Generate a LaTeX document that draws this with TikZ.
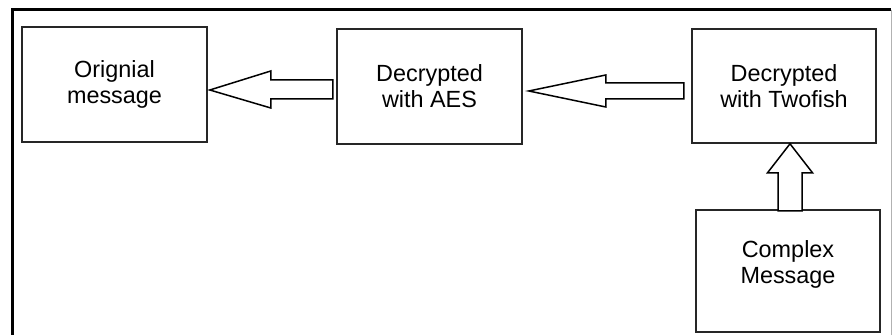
\documentclass[tikz,border=0pt]{standalone}
\usepackage{fontspec}
\setmainfont{Liberation Sans}
\usepackage{tikz}
\usetikzlibrary{positioning}

\tikzset{
  stagebox/.style={draw=black!85, line width=0.8pt, minimum width=92.5pt,
    minimum height=57.5pt, align=center, inner sep=0pt,
    font=\fontsize{11.7}{13}\selectfont},
  hollow/.style={draw=black, line width=0.75pt, fill=white, line join=miter}
}

\begin{document}
\begin{tikzpicture}[x=0.5pt, y=-0.5pt]
\useasboundingbox (0,0) rectangle (894,335);

% frame
      \draw[line width=1.5pt] (12.5,335) -- (12.5,10) -- (891,10);
      \draw[black!30, line width=0.5pt] (891,10) -- (891,335);

% boxes
      \node[stagebox] (orig) at (114.5,84.5) {Orignial\\message};
      \node[stagebox] (aes) at (429.5,86.5) {Decrypted\\with AES};
      \node[stagebox, minimum width=92pt, minimum height=57pt] (twofish) at (784,86) {Decrypted\\with Twofish};
      \node[stagebox, minimum width=92pt, minimum height=61pt, text depth=9pt] (complex) at (788,271) {Complex\\Message};

% arrows
      \draw[hollow, shift={(orig.east)}] (2,5.5) -- (63,-13.5) -- (63,-4.5) -- (125,-4.5)
        -- (125,14.5) -- (63,14.5) -- (63,23.5) -- cycle;
      \draw[hollow, shift={(aes.east)}] (6,4.5) -- (83,-11.5) -- (83,-3.5) -- (161,-3.5)
        -- (161,12.5) -- (83,12.5) -- (83,20.5) -- cycle;
      \draw[hollow, shift={(twofish.south)}] (6,0) -- (-16.5,29) -- (-6,29) -- (-6,67)
        -- (18,67) -- (18,29) -- (28.5,29) -- cycle;

\end{tikzpicture}
\end{document}
